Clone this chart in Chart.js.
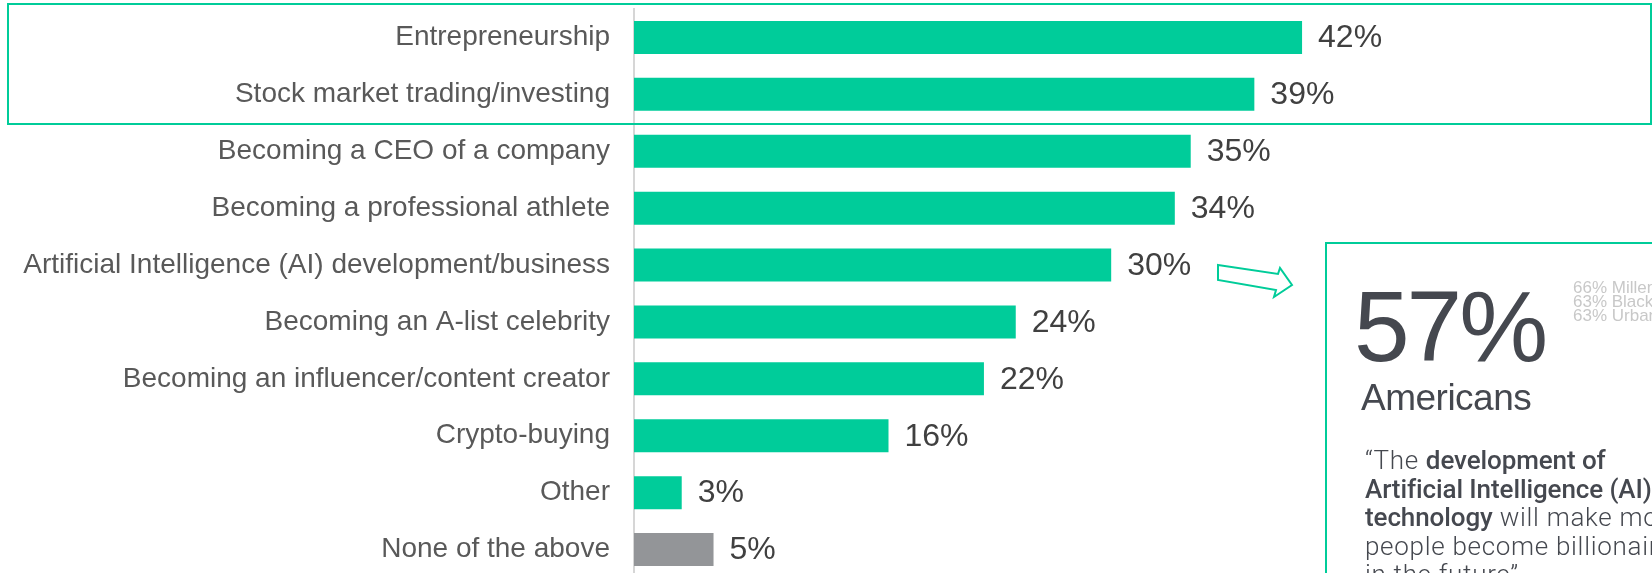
<!DOCTYPE html>
<html>
<head>
<meta charset="utf-8">
<script src="https://cdn.jsdelivr.net/npm/chart.js@4"></script>
<style>
  html, body { margin: 0; padding: 0; background: #ffffff; overflow: hidden; width: 1652px; height: 573px; }
  #wrap { position: absolute; left: 0; top: 0; width: 1652px; height: 578px; }
  #hl { position: absolute; left: 7px; top: 3px; width: 1641px; height: 118px; border: 2px solid #00cc99; box-sizing: content-box; pointer-events: none; }
  #panel { position: absolute; left: 1325px; top: 242px; width: 500px; height: 500px; border: 2px solid #00cc99; background: transparent; }
  .big { position: absolute; left: 1354px; top: 276px; font-family: "Liberation Sans", Arial, sans-serif; font-size: 100px; color: #45484f; letter-spacing: -3px; line-height: 1; }
  .amer { position: absolute; left: 1361px; top: 379px; font-family: "Liberation Sans", Arial, sans-serif; font-size: 37px; color: #45484f; letter-spacing: -0.5px; line-height: 1; }
  .side { position: absolute; left: 1573px; top: 281px; font-family: "Liberation Sans", Arial, sans-serif; font-size: 17px; line-height: 14.2px; color: #c8c8c8; white-space: nowrap; }
  .quote { position: absolute; left: 1365px; top: 446px; font-family: Roboto, "Liberation Sans", Arial, sans-serif; font-weight: 300; font-size: 26px; line-height: 28.5px; color: #45484f; white-space: nowrap; letter-spacing: 0.7px; }
  .quote b { font-weight: 500; letter-spacing: -0.1px; }
  svg { position: absolute; left: 0; top: 0; }
</style>
</head>
<body>
<div id="wrap"><canvas id="c"></canvas></div>
<div id="hl"></div>
<div id="panel"></div>
<svg width="1652" height="573">
  <polygon points="1218,265 1278,274 1280,268 1292,285 1274,297 1276,290 1218,280" fill="#ffffff" stroke="#00cc99" stroke-width="2" stroke-linejoin="miter"/>
</svg>
<div class="big">57%</div>
<div class="amer">Americans</div>
<div class="side">66% Millennials<br>63% Black Americans<br>63% Urban residents</div>
<div class="quote">“The <b>development of</b><br><b>Artificial Intelligence (AI)</b><br><b>technology</b> will make more<br>people become billionaires<br>in the future”</div>
<script>
const categories = [
  "Entrepreneurship",
  "Stock market trading/investing",
  "Becoming a CEO of a company",
  "Becoming a professional athlete",
  "Artificial Intelligence (AI) development/business",
  "Becoming an A-list celebrity",
  "Becoming an influencer/content creator",
  "Crypto-buying",
  "Other",
  "None of the above"
];
const values = [42, 39, 35, 34, 30, 24, 22, 16, 3, 5];
const valueLabels = ["42%", "39%", "35%", "34%", "30%", "24%", "22%", "16%", "3%", "5%"];
const barColors = ["#00cc9a", "#00cc9a", "#00cc9a", "#00cc9a", "#00cc9a", "#00cc9a", "#00cc9a", "#00cc9a", "#00cc9a", "#939598"];

const valueLabelPlugin = {
  id: 'valueLabels',
  afterDatasetsDraw(chart) {
    const ctx = chart.ctx;
    const meta = chart.getDatasetMeta(0);
    ctx.save();
    ctx.font = '32px "Liberation Sans", Arial, sans-serif';
    ctx.fillStyle = '#404040';
    ctx.textAlign = 'left';
    ctx.textBaseline = 'middle';
    meta.data.forEach((bar, i) => {
      ctx.fillText(valueLabels[i], bar.x + 16, bar.y + 1);
    });
    ctx.restore();
  }
};

new Chart(document.getElementById('c'), {
  type: 'bar',
  data: {
    labels: categories,
    datasets: [{
      data: values,
      backgroundColor: barColors,
      borderWidth: 0,
      barPercentage: 0.58,
      categoryPercentage: 1.0
    }]
  },
  options: {
    indexAxis: 'y',
    responsive: true,
    maintainAspectRatio: false,
    animation: false,
    layout: { padding: { top: 9, bottom: 0, left: 0, right: 0 } },
    plugins: { legend: { display: false }, tooltip: { enabled: false } },
    scales: {
      x: { display: false, min: 0, max: 64 },
      y: {
        afterFit(scale) { scale.width = 634; scale.paddingTop = 0; scale.paddingBottom = 0; },
        grid: { display: false, drawTicks: false },
        border: { display: true, color: '#d6d6d6', width: 2 },
        ticks: {
          padding: 24,
          color: '#595959',
          font: { family: '"Liberation Sans", Arial, sans-serif', size: 28 }
        }
      }
    }
  },
  plugins: [valueLabelPlugin]
});
</script>
</body>
</html>
